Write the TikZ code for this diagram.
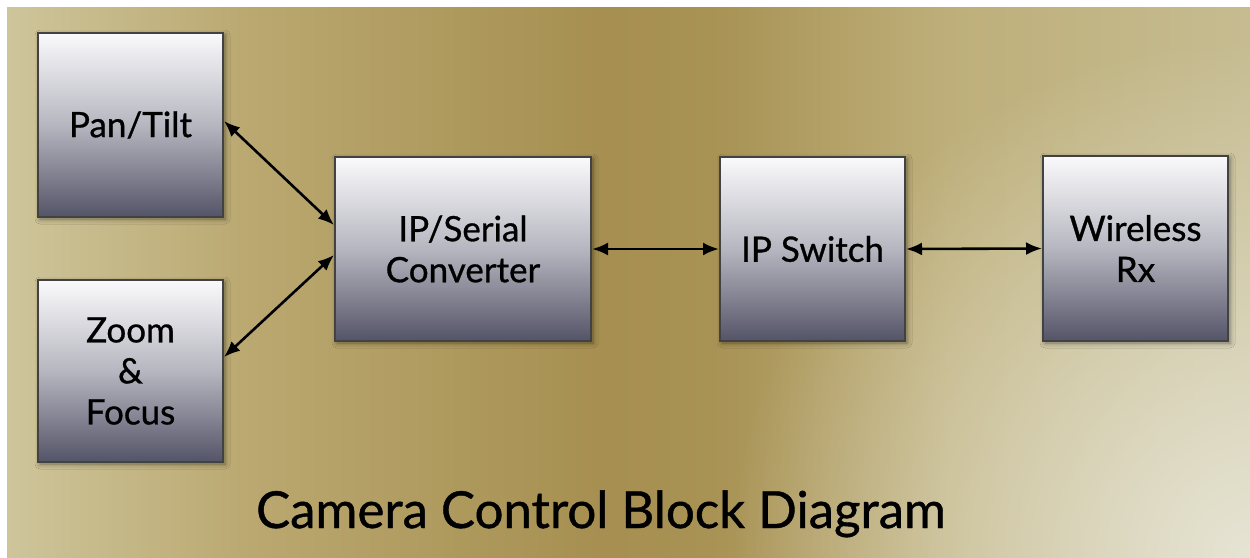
\documentclass[tikz,border=0pt]{standalone}
\usepackage{fontspec}
\setmainfont{Lato}
\newfontfamily\gillish{Lato}[FakeBold=0.8]
\usetikzlibrary{arrows.meta,shadows.blur,fadings}
\definecolor{bgA}{RGB}{206,197,155}
\definecolor{bgB}{RGB}{186,168,112}
\definecolor{bgC}{RGB}{166,143,80}
\definecolor{bgD}{RGB}{168,146,84}
\definecolor{bgE}{RGB}{190,175,122}
\definecolor{bgF}{RGB}{198,188,145}
\definecolor{bgG}{RGB}{230,228,212}
\definecolor{boxtop}{RGB}{250,250,252}
\definecolor{boxmid}{RGB}{182,182,192}
\definecolor{boxbot}{RGB}{84,84,104}
\definecolor{boxline}{RGB}{66,66,66}
\pgfdeclarehorizontalshading{bgshade}{100bp}{color(0bp)=(bgA); color(25bp)=(bgA); color(34.8bp)=(bgB); color(48.9bp)=(bgC); color(53.3bp)=(bgD); color(62.9bp)=(bgE); color(75bp)=(bgF); color(100bp)=(bgF)}
\tikzfading[name=glowfade, inner color=transparent!0, outer color=transparent!100]
\tikzset{
  blockbox/.style={draw=boxline, line width=2pt, inner sep=0pt,
    top color=boxtop, bottom color=boxbot, middle color=boxmid,
    align=center, text=black, font=\gillish\fontsize{35}{41}\selectfont,
    blur shadow={shadow xshift=2pt, shadow yshift=-2pt, shadow blur radius=5pt, shadow opacity=45}},
  biarrow/.style={line width=2.6pt, {Latex[length=16pt,width=13pt]}-{Latex[length=16pt,width=13pt]}},
  titletext/.style={font=\gillish\fontsize{51}{58}\selectfont, text=black, inner sep=0pt}
}
\begin{document}
\begin{tikzpicture}[x=1pt,y=-1pt]
\useasboundingbox (0,0) rectangle (1250,557);
\fill[white] (0,0) rectangle (1250,557);
\shade[shading=bgshade] (7,7) rectangle (1250,557);
\begin{scope}
\clip (7,7) rectangle (1250,557);
\fill[bgG, path fading=glowfade] (1250,557) circle (520pt);
\end{scope}

\node[blockbox, minimum width=185pt, minimum height=184pt] (pan) at (130.5,125) {Pan/Tilt};
\node[blockbox, minimum width=185pt, minimum height=182pt] (zoom) at (130.5,371) {Zoom\\\&\\Focus};
\node[blockbox, minimum width=256pt, minimum height=184pt] (conv) at (463,249) {IP/Serial\\Converter};
\node[blockbox, minimum width=185pt, minimum height=184pt] (sw) at (812.5,249) {IP Switch};
\node[blockbox, minimum width=185pt, minimum height=185pt] (rx) at (1135.5,248.5) {Wireless\\Rx};

\draw[biarrow] ([yshift=4pt]pan.east) -- ([yshift=24pt]conv.west);
\draw[biarrow] ([yshift=14pt]zoom.east) -- ([yshift=-6pt]conv.west);
\draw[biarrow] (conv.east) -- (sw.west);
\draw[biarrow] (sw.east) -- (rx.west);

\node[titletext, anchor=base] (title) at (601,528) {Camera Control Block Diagram};
\end{tikzpicture}
\end{document}
